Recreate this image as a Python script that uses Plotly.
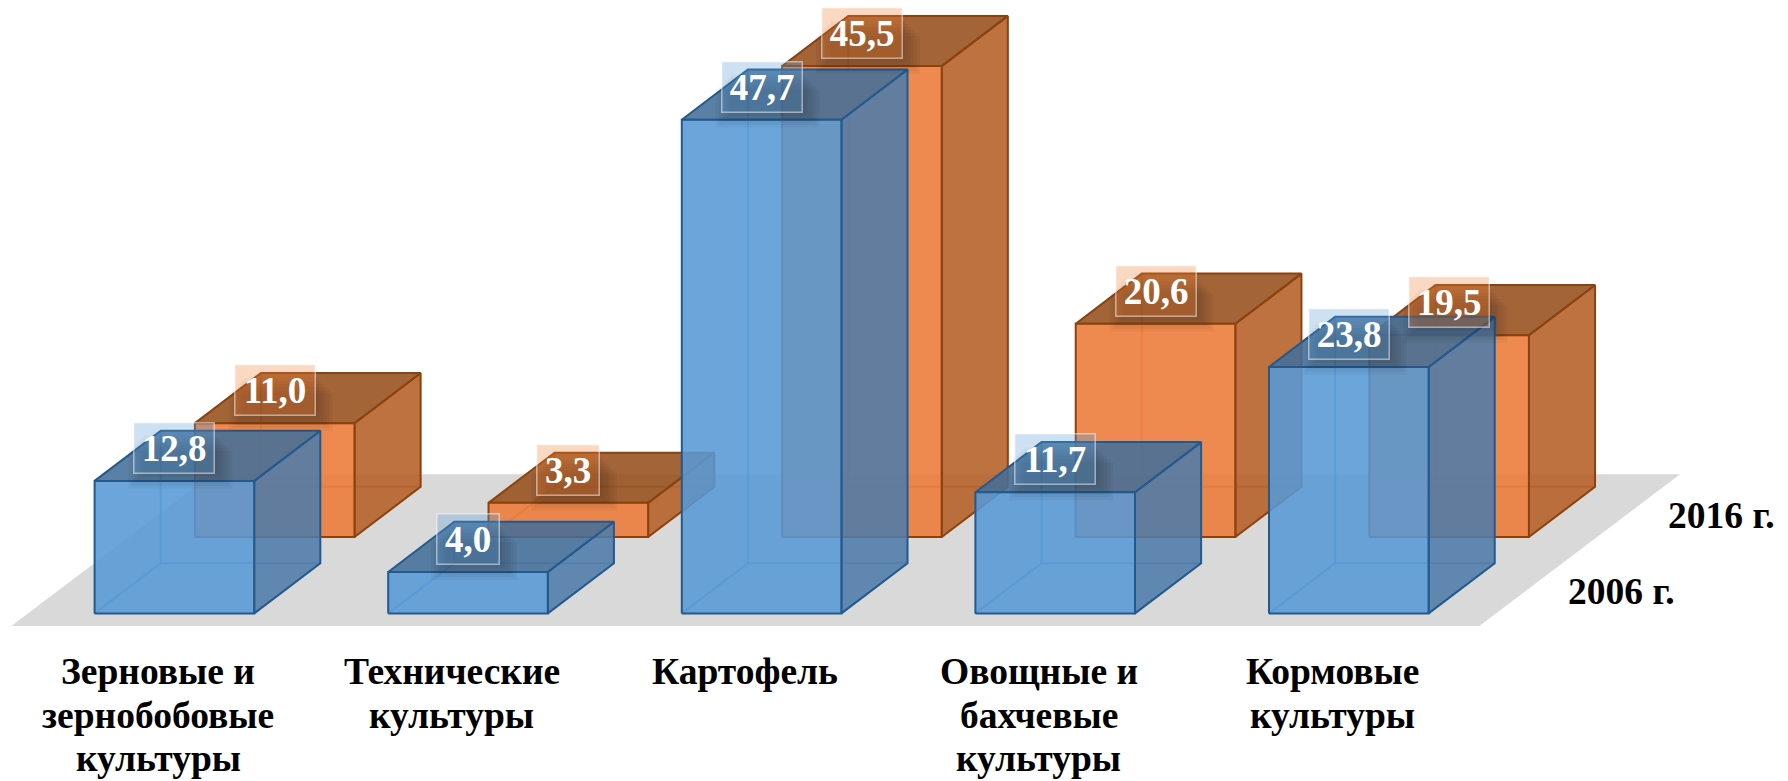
"""Oblique 3D bar chart drawn with plotly scatter polygons"""

import plotly.graph_objects as go

categories = [
    ["Зерновые и", "зернобобовые", "культуры"],
    ["Технические", "культуры"],
    ["Картофель"],
    ["Овощные и", "бахчевые", "культуры"],
    ["Кормовые", "культуры"],
]
values_2006 = [12.8, 4.0, 47.7, 11.7, 23.8]
values_2016 = [11.0, 3.3, 45.5, 20.6, 19.5]
series_names = ["2006 г.", "2016 г."]

WIDTH, HEIGHT = 1788, 781
SLOT_PX = 293.6     # one category on the x axis
UNIT_PX = 10.35     # one percent on the y axis
LEFT_PX = 94.6      # first bar
BASE_PX = 613.4     # baseline of the front row

BAR_W = 0.5436
DEPTH = (0.2252, 4.85)      # oblique vector of a bar
ROW = (0.3417, 7.38)        # front row -> back row
FONT = "Liberation Serif"

BLUE = {"front": "rgba(86,153,213,0.88)", "side": "rgba(78,123,168,0.88)",
        "top": "rgba(68,110,152,0.88)", "edge": "#24598c",
        "hidden": "rgba(45,115,185,0.55)", "label": "rgba(91,155,213,0.3)"}
ORANGE = {"front": "rgba(236,122,55,0.88)", "side": "rgba(180,95,37,0.88)",
          "top": "rgba(150,79,28,0.88)", "edge": "#8a4310",
          "hidden": "rgba(190,95,35,0.55)", "label": "rgba(237,125,49,0.3)"}


def face(fig, xs, ys, fill, edge, width=2):
    fig.add_trace(go.Scatter(
        x=xs + xs[:1], y=ys + ys[:1], mode="lines", fill="toself", fillcolor=fill,
        line={"color": edge, "width": width}, hoverinfo="skip", showlegend=False))


def draw_bar(fig, x0, y0, value, style):
    """One box: hidden edges first, then the three faces you can see"""
    x1 = x0 + BAR_W
    dx, dy = DEPTH
    top = y0 + value
    fig.add_trace(go.Scatter(
        x=[x0, x0 + dx, x1 + dx, None, x0 + dx, x0 + dx],
        y=[y0, y0 + dy, y0 + dy, None, y0 + dy, top + dy],
        mode="lines", line={"color": style["hidden"], "width": 2},
        hoverinfo="skip", showlegend=False))
    face(fig, [x1, x1 + dx, x1 + dx, x1], [y0, y0 + dy, top + dy, top],
         style["side"], style["edge"])
    face(fig, [x0, x0 + dx, x1 + dx, x1], [top, top + dy, top + dy, top],
         style["top"], style["edge"])
    face(fig, [x0, x1, x1, x0], [y0, y0, top, top], style["front"], style["edge"])


def label_shadow(fig, cx, cy, half_w):
    """Soft shadow under a value label, from stacked faint rectangles"""
    for grow in range(0, 16, 3):
        fig.add_shape(
            type="rect", xref="x", yref="y", layer="above", line_width=0,
            fillcolor="rgba(0,0,0,0.035)",
            x0=cx + (-half_w + 10 - grow) / SLOT_PX,
            x1=cx + (half_w + 2 + grow) / SLOT_PX,
            y0=cy - (26 + grow) / UNIT_PX,
            y1=cy + (12 - grow) / UNIT_PX)


fig = go.Figure()

# floor
floor_x0, floor_y0 = -0.2835, -1.21
floor_dx, floor_dy = 0.6835, 14.65
face(fig,
     [floor_x0, floor_x0 + len(categories), floor_x0 + len(categories) + floor_dx, floor_x0 + floor_dx],
     [floor_y0, floor_y0, floor_y0 + floor_dy, floor_y0 + floor_dy],
     "#d9d9d9", "#d9d9d9", 0)

rows = [(values_2016, ROW[0], ROW[1], ORANGE), (values_2006, 0, 0, BLUE)]
for values, off_x, off_y, style in rows:
    for i, v in enumerate(values):
        draw_bar(fig, i + off_x, off_y, v, style)

# value labels go on top of everything
for values, off_x, off_y, style in rows:
    for i, v in enumerate(values):
        text = f"{v:.1f}".replace(".", ",")
        cx = i + off_x + BAR_W / 2
        cy = off_y + v + 3.2
        half_w = 41 if len(text) == 4 else 32
        label_shadow(fig, cx, cy, half_w)
        fig.add_annotation(
            x=cx, y=cy, text=text, showarrow=False, xanchor="center", yanchor="middle",
            font={"family": FONT, "size": 37, "color": "white", "weight": "bold"},
            bgcolor=style["label"], bordercolor="rgba(255,255,255,0.5)", borderwidth=1.5,
            borderpad=0, width=half_w * 2 - 3, height=49)

# category labels, one annotation per line to hold the line spacing
for i, lines in enumerate(categories):
    for j, line in enumerate(lines):
        fig.add_annotation(
            x=i + floor_x0 + 0.5, y=-5.63 - j * 4.2, text=line, showarrow=False,
            xanchor="center", yanchor="middle",
            font={"family": FONT, "size": 37.5, "color": "black", "weight": "bold"})

for k, name in enumerate(series_names):
    fig.add_annotation(
        x=5.2 + k * ROW[0], y=2.09 + k * ROW[1], text=name, showarrow=False,
        xanchor="center", yanchor="middle",
        font={"family": FONT, "size": 37.5, "color": "black", "weight": "bold"})

fig.update_xaxes(visible=False, range=[-LEFT_PX / SLOT_PX, (WIDTH - LEFT_PX) / SLOT_PX])
fig.update_yaxes(visible=False, range=[(BASE_PX - HEIGHT) / UNIT_PX, BASE_PX / UNIT_PX])
fig.update_layout(width=WIDTH, height=HEIGHT, margin={"l": 0, "r": 0, "t": 0, "b": 0},
                  paper_bgcolor="white", plot_bgcolor="white", showlegend=False)

# the page body has a default margin that would push the figure off by 8 px
fig.write_html("out.html", config={"displayModeBar": False},
               post_script="document.body.style.margin='0';document.body.style.overflow='hidden';")
